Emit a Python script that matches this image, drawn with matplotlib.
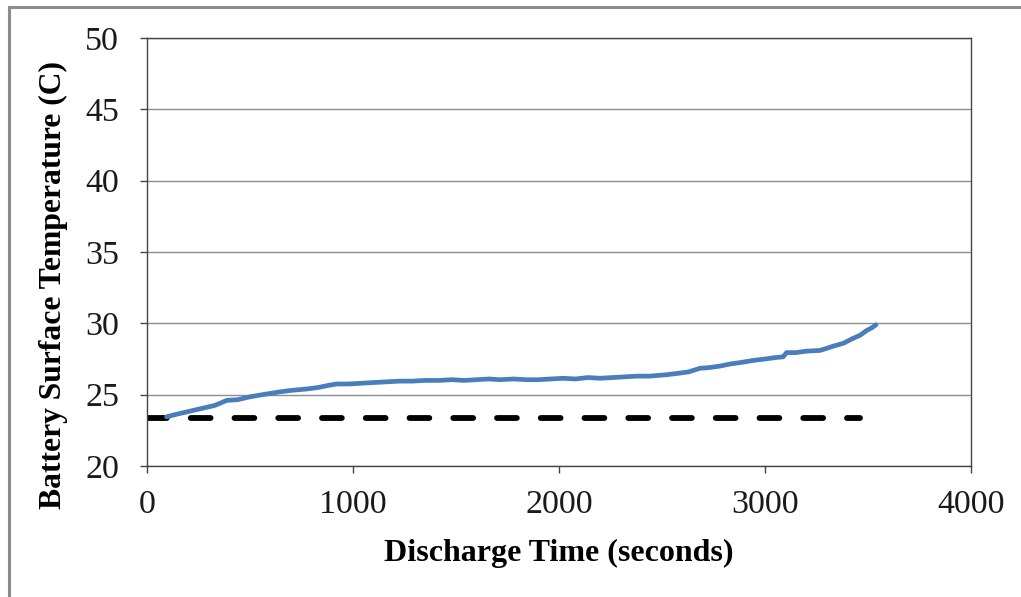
import matplotlib
matplotlib.use('Agg')
import matplotlib.pyplot as plt
from matplotlib.lines import Line2D

plt.rcParams['font.family'] = ['Liberation Serif', 'DejaVu Serif']

# measured surface temperature during discharge
time_s = [95, 150, 210, 270, 330, 387, 440, 500, 560, 646, 700, 775,
          830, 880, 920, 980, 1040, 1100, 1160, 1228, 1290, 1350, 1420,
          1480, 1540, 1600, 1660, 1714, 1780, 1840, 1900, 1960, 2020,
          2080, 2140, 2200, 2260, 2320, 2380, 2440, 2523, 2580, 2630,
          2684, 2730, 2780, 2830, 2880, 2943, 3000, 3050, 3088, 3105,
          3150, 3200, 3267, 3300, 3331, 3380, 3428, 3460, 3494, 3520, 3539]
temp_c = [23.45, 23.65, 23.85, 24.05, 24.25, 24.6, 24.65, 24.85, 25.0,
          25.2, 25.3, 25.4, 25.5, 25.65, 25.75, 25.75, 25.8, 25.85, 25.9,
          25.95, 25.95, 26.0, 26.0, 26.05, 26.0, 26.05, 26.1, 26.05,
          26.1, 26.05, 26.05, 26.1, 26.15, 26.1, 26.2, 26.15, 26.2, 26.25,
          26.3, 26.3, 26.4, 26.5, 26.6, 26.85, 26.9, 27.0, 27.15, 27.25,
          27.4, 27.5, 27.6, 27.65, 27.95, 27.95, 28.05, 28.1, 28.25, 28.4,
          28.6, 28.95, 29.15, 29.5, 29.7, 29.9]

# ambient reference level
ambient_t = [0, 3460]
ambient_c = [23.4, 23.4]

x_ticks = [0, 1000, 2000, 3000, 4000]
y_ticks = [20, 25, 30, 35, 40, 45, 50]

fig = plt.figure(figsize=(10.21, 5.97), dpi=100)
ax = fig.add_axes([0.144, 0.2194, 0.807, 0.717])

ax.plot(time_s, temp_c, color='#4a7ebb', lw=3.4, solid_capstyle='round',
        solid_joinstyle='round', zorder=3)
ax.plot(ambient_t, ambient_c, color='black', lw=4.2, dashes=(3.4, 4.1),
        dash_capstyle='round', zorder=2)

ax.set_xlim(0, 4000)
ax.set_ylim(20, 50)
ax.set_xticks(x_ticks)
ax.set_yticks(y_ticks)
ax.yaxis.grid(True, color='#8c8c8c', lw=1.0)
ax.set_axisbelow(True)

for side in ['left', 'right', 'top', 'bottom']:
    ax.spines[side].set_color('#444444')
    ax.spines[side].set_linewidth(1.0)

ax.tick_params(axis='both', direction='out', length=5, width=1,
               color='#444444', labelsize=24.5, labelcolor='#1a1a1a')
ax.tick_params(axis='y', pad=15)
ax.tick_params(axis='x', pad=12)

ax.set_xlabel('Discharge Time (seconds)', fontsize=23, fontweight='bold')
ax.set_ylabel('Battery Surface Temperature (C)', fontsize=22.8,
              fontweight='bold')
ax.xaxis.set_label_coords(0.5, -0.17)
ax.yaxis.set_label_coords(-0.096, 0.423)

# outer frame lines of the chart area
fig.add_artist(Line2D([0.009, 0.009], [0.0, 0.988], color='#8c8c8c', lw=2.2))
fig.add_artist(Line2D([0.009, 1.0], [0.988, 0.988], color='#8c8c8c', lw=2.2))

fig.savefig('out.png', dpi=100)
